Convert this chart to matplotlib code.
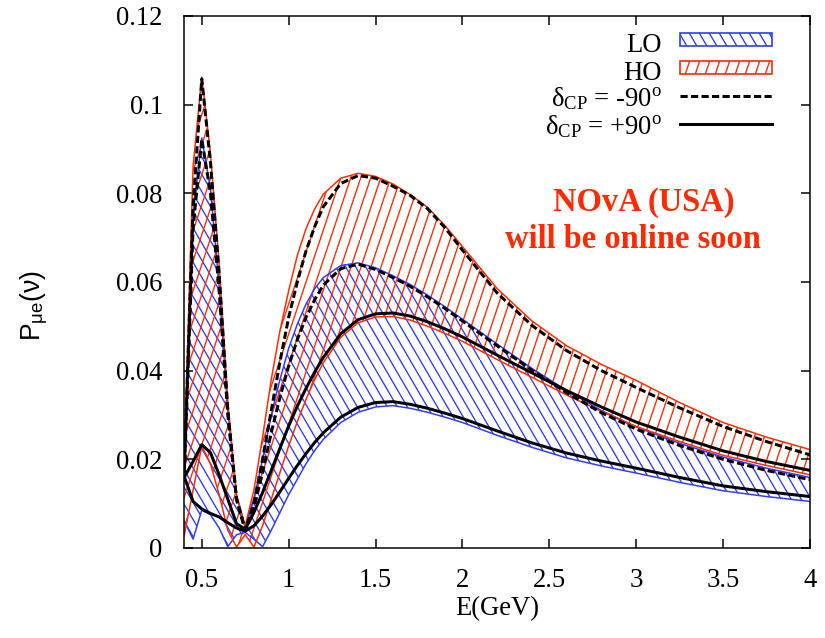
import matplotlib
matplotlib.use('Agg')
import matplotlib.pyplot as plt
import matplotlib.hatch as mhatch
from matplotlib.path import Path
from matplotlib.patches import Rectangle
from matplotlib.ticker import FormatStrFormatter

# energy grid (GeV)
E = [0.40, 0.45, 0.50, 0.55, 0.60, 0.65, 0.70, 0.75, 0.80, 0.85, 0.90, 0.95,
     1.00, 1.05, 1.10, 1.15, 1.20, 1.30, 1.40, 1.50, 1.60, 1.70, 1.80, 1.90,
     2.00, 2.20, 2.40, 2.60, 2.80, 3.00, 3.25, 3.50, 3.75, 4.00]

# LO band (min / max over delta_CP)
lo_min = [0.0060, 0.0020, 0.0085, 0.0075, 0.0045, 0.0003, 0.0030, 0.0035, 0.0020, 0.0003, 0.0040, 0.0080,
          0.0120, 0.0155, 0.0190, 0.0220, 0.0245, 0.0283, 0.0306, 0.0318, 0.0321, 0.0315, 0.0306, 0.0295,
          0.0283, 0.0254, 0.0227, 0.0203, 0.0185, 0.0169, 0.0148, 0.0129, 0.0116, 0.0105]
lo_max = [0.0210, 0.0750, 0.0925, 0.0810, 0.0590, 0.0310, 0.0120, 0.0045, 0.0110, 0.0200, 0.0300, 0.0380,
          0.0450, 0.0505, 0.0550, 0.0585, 0.0610, 0.0637, 0.0643, 0.0632, 0.0614, 0.0594, 0.0570, 0.0544,
          0.0516, 0.0460, 0.0405, 0.0355, 0.0310, 0.0273, 0.0236, 0.0205, 0.0180, 0.0159]

# HO band
ho_min = [0.0030, 0.0130, 0.0230, 0.0190, 0.0120, 0.0040, 0.0002, 0.0030, 0.0002, 0.0050, 0.0110, 0.0170,
          0.0230, 0.0285, 0.0335, 0.0380, 0.0418, 0.0475, 0.0508, 0.0521, 0.0522, 0.0514, 0.0500, 0.0484,
          0.0466, 0.0425, 0.0385, 0.0345, 0.0308, 0.0274, 0.0240, 0.0209, 0.0186, 0.0165]
ho_max = [0.0220, 0.0860, 0.1062, 0.0890, 0.0640, 0.0330, 0.0120, 0.0050, 0.0130, 0.0250, 0.0380, 0.0490,
          0.0580, 0.0660, 0.0720, 0.0765, 0.0798, 0.0834, 0.0845, 0.0838, 0.0821, 0.0797, 0.0768, 0.0727,
          0.0680, 0.0585, 0.0512, 0.0456, 0.0414, 0.0378, 0.0328, 0.0283, 0.0250, 0.0222]

# delta_CP = -90 deg
lo_m90 = [0.0170, 0.0720, 0.0922, 0.0800, 0.0580, 0.0300, 0.0110, 0.0040, 0.0090, 0.0170, 0.0260, 0.0340,
          0.0410, 0.0470, 0.0520, 0.0560, 0.0593, 0.0630, 0.0640, 0.0628, 0.0610, 0.0590, 0.0566, 0.0540,
          0.0512, 0.0456, 0.0401, 0.0350, 0.0305, 0.0268, 0.0231, 0.0200, 0.0175, 0.0154]
ho_m90 = [0.0180, 0.0770, 0.1058, 0.0870, 0.0620, 0.0310, 0.0110, 0.0040, 0.0100, 0.0200, 0.0310, 0.0420,
          0.0520, 0.0600, 0.0670, 0.0725, 0.0770, 0.0822, 0.0840, 0.0834, 0.0816, 0.0795, 0.0765, 0.0722,
          0.0672, 0.0575, 0.0502, 0.0445, 0.0400, 0.0362, 0.0316, 0.0274, 0.0240, 0.0210]

# delta_CP = +90 deg
lo_p90 = [0.0160, 0.0105, 0.0088, 0.0078, 0.0070, 0.0057, 0.0045, 0.0038, 0.0050, 0.0072, 0.0098, 0.0127,
          0.0157, 0.0186, 0.0213, 0.0238, 0.0260, 0.0295, 0.0317, 0.0328, 0.0330, 0.0324, 0.0315, 0.0304,
          0.0292, 0.0264, 0.0237, 0.0214, 0.0196, 0.0180, 0.0159, 0.0140, 0.0127, 0.0116]
ho_p90 = [0.0160, 0.0195, 0.0233, 0.0215, 0.0165, 0.0110, 0.0055, 0.0042, 0.0080, 0.0125, 0.0175, 0.0225,
          0.0275, 0.0320, 0.0360, 0.0397, 0.0430, 0.0483, 0.0515, 0.0528, 0.0530, 0.0523, 0.0510, 0.0494,
          0.0476, 0.0435, 0.0395, 0.0355, 0.0318, 0.0284, 0.0250, 0.0219, 0.0195, 0.0175]

xticks = [0.5, 1, 1.5, 2, 2.5, 3, 3.5, 4]
yticks = [0, 0.02, 0.04, 0.06, 0.08, 0.1, 0.12]
legend_labels = ['LO', 'HO', r'$\mathrm{\delta_{CP}}$ = -90$^\mathrm{o}$',
                 r'$\mathrm{\delta_{CP}}$ = +90$^\mathrm{o}$']

BLUE = '#2f3cff'
RED = '#ff2a00'


# gnuplot-like steep hatch lines instead of the 45 degree ones
class SlantHatch(mhatch.HatchPatternBase):
    char = '/'
    shift = 0.3      # horizontal run per unit rise
    mirror = False

    def __init__(self, hatch, density):
        n = hatch.count(self.char) * density
        self.segs = []
        if n:
            m = max(1, round(self.shift * n))
            for k in range(n):
                x0 = k / n
                x1 = x0 + m / n
                if x1 <= 1.0 + 1e-9:
                    self.segs.append(((x0, 0.0), (x1, 1.0)))
                else:
                    yb = (1.0 - x0) / (x1 - x0)
                    self.segs.append(((x0, 0.0), (1.0, yb)))
                    self.segs.append(((0.0, yb), (x1 - 1.0, 1.0)))
        self.num_vertices = 2 * len(self.segs)

    def set_vertices_and_codes(self, vertices, codes):
        for i, (a, b) in enumerate(self.segs):
            vertices[2 * i] = a
            vertices[2 * i + 1] = b
            codes[2 * i] = Path.MOVETO
            codes[2 * i + 1] = Path.LINETO
        if self.mirror:
            vertices[:, 0] = 1.0 - vertices[:, 0]


class RedSlant(SlantHatch):
    char = '/'
    shift = 0.3


class BlueSlant(SlantHatch):
    char = '\\'
    shift = 0.6
    mirror = True


mhatch._hatch_types = [c for c in mhatch._hatch_types
                       if c not in (mhatch.NorthEastHatch, mhatch.SouthEastHatch)] + [RedSlant, BlueSlant]

plt.rcParams['font.family'] = ['Liberation Serif', 'DejaVu Serif']
plt.rcParams['mathtext.fontset'] = 'custom'
plt.rcParams['mathtext.rm'] = 'Liberation Serif'
plt.rcParams['mathtext.it'] = 'Liberation Serif:italic'
plt.rcParams['mathtext.bf'] = 'Liberation Serif:bold'
plt.rcParams['mathtext.sf'] = 'Liberation Sans'
plt.rcParams['hatch.linewidth'] = 0.8

FS = 16

fig = plt.figure(figsize=(825 / 120, 638 / 120), dpi=120)
ax = fig.add_axes([0.2235, 0.1411, 0.7582, 0.834])

# hatched bands
ax.fill_between(E, lo_min, lo_max, facecolor='none', edgecolor=BLUE, hatch='\\\\', linewidth=0, zorder=1)
ax.fill_between(E, ho_min, ho_max, facecolor='none', edgecolor=RED, hatch='//', linewidth=0, zorder=1)

# band edges
for curve in (lo_min, lo_max):
    ax.plot(E, curve, color=BLUE, lw=0.9, zorder=2)
for curve in (ho_min, ho_max):
    ax.plot(E, curve, color=RED, lw=0.9, zorder=2)

# delta_CP lines
dash = (0, (2.4, 1.1))
ax.plot(E, lo_m90, color='black', lw=1.8, linestyle=dash, zorder=3)
ax.plot(E, ho_m90, color='black', lw=1.8, linestyle=dash, zorder=3)
ax.plot(E, lo_p90, color='black', lw=1.8, zorder=3)
ax.plot(E, ho_p90, color='black', lw=1.8, zorder=3)

ax.set_xlim(0.4, 4)
ax.set_ylim(0, 0.12)
ax.set_xticks(xticks)
ax.set_yticks(yticks)
ax.xaxis.set_major_formatter(FormatStrFormatter('%g'))
ax.yaxis.set_major_formatter(FormatStrFormatter('%g'))
ax.tick_params(which='both', direction='in', top=True, right=True, length=5.4, width=0.9,
               labelsize=FS, pad=13)
ax.tick_params(axis='x', pad=12)
for sp in ax.spines.values():
    sp.set_linewidth(0.9)

ax.set_xlabel('E(GeV)', fontsize=FS)
ax.xaxis.set_label_coords(0.5, -0.09)
ax.set_ylabel(r'P$_{\mathsf{\mu e}}$($\mathsf{\nu}$)', fontsize=FS, family='Liberation Sans')
ax.yaxis.set_label_coords(-0.215, 0.455)

# key drawn gnuplot style: right-aligned text, sample to its right
tx = 0.7635
hx0, hx1 = 0.7918, 0.9389
rows = [0.9549, 0.9023, 0.8496, 0.7970]
base = [0.9323, 0.8803, 0.8308, 0.7782]
for lab, yb in zip(legend_labels, base):
    ax.text(tx, yb, lab, transform=ax.transAxes, fontsize=FS, ha='right', va='baseline')
hh = 0.0245
ax.add_patch(Rectangle((hx0, rows[0] - hh / 2), hx1 - hx0, hh, transform=ax.transAxes,
                       facecolor='white', edgecolor=BLUE, hatch='\\\\', lw=1.0, zorder=5))
ax.add_patch(Rectangle((hx0, rows[1] - hh / 2), hx1 - hx0, hh, transform=ax.transAxes,
                       facecolor='white', edgecolor=RED, hatch='//', lw=1.0, zorder=5))
ax.plot([hx0, hx1], [rows[2], rows[2]], transform=ax.transAxes, color='black', lw=1.8,
        linestyle=dash, zorder=5)
ax.plot([hx0, hx1], [rows[3], rows[3]], transform=ax.transAxes, color='black', lw=1.8, zorder=5)

ax.text(0.7347, 0.650, 'NOvA (USA)', transform=ax.transAxes, color=RED, fontsize=19.5,
        fontweight='bold', ha='center', va='center')
ax.text(0.717, 0.579, 'will be online soon', transform=ax.transAxes, color=RED, fontsize=19.5,
        fontweight='bold', ha='center', va='center')

fig.savefig('out.png', dpi=120)
